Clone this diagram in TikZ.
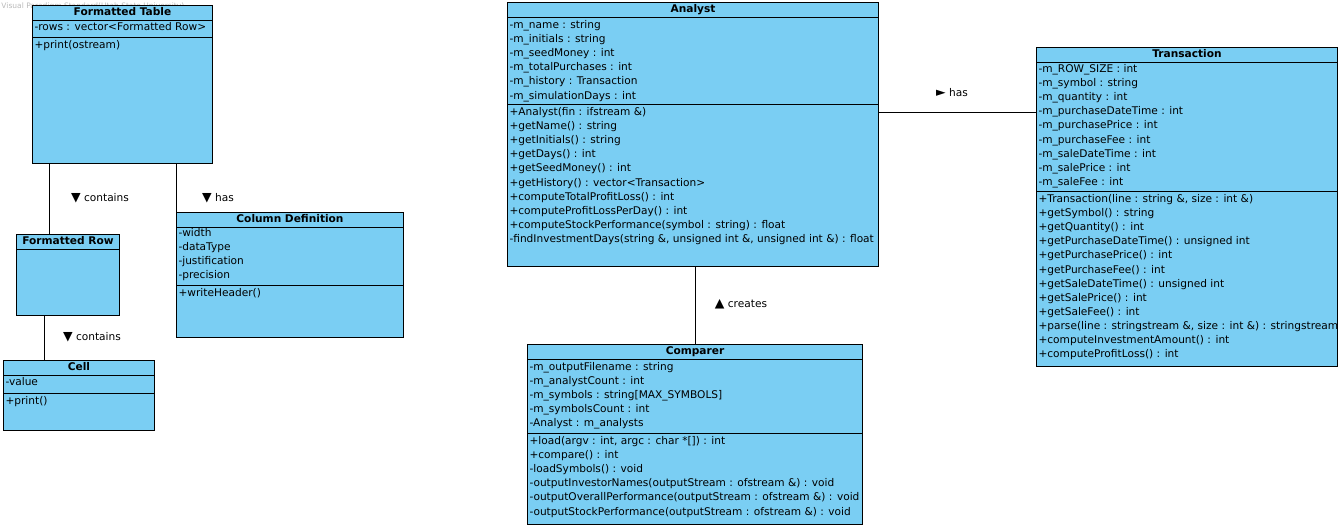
\documentclass[tikz,border=0pt]{standalone}
\usepackage{fontspec}
\setmainfont{DejaVu Sans}
\newfontfamily\symfont{DejaVu Sans}
\usetikzlibrary{positioning}
\definecolor{classblue}{RGB}{122,206,243}

\begin{document}
\begin{tikzpicture}[x=1pt,y=-1pt,line width=1pt]
    %
    % `classbox' is the body of a class, `classtitle' its name bar.
    % `members' holds attributes and operations, `assoc' the link names.
    \tikzstyle{classbox} = [draw,fill=classblue,anchor=north west,inner sep=0pt]
    \tikzstyle{classtitle} = [draw,fill=classblue,anchor=north,inner sep=0pt,minimum height=15,text height=7.5pt,text depth=2pt,font=\fontsize{10.6}{14}\selectfont\bfseries]
    \tikzstyle{members} = [anchor=north west,inner sep=0pt,align=left,font=\fontsize{10.6}{14.1}\selectfont]
    \tikzstyle{assoc} = [inner sep=0pt,font=\fontsize{10.6}{14}\selectfont]
    \useasboundingbox (0,0) rectangle (1341,528);
    %
    % Watermark
    \node[anchor=west,inner sep=0pt,text=gray!55,font=\fontsize{7.5}{9}\selectfont] (watermark) at (1,6) {Visual Paradigm Standard(Utah State University)};
    %
    % Formatted Table
    \node[classbox,minimum width=180,minimum height=158] (ftable) at (32,5) {};
    \node[classtitle,minimum width=180] (ftabletitle) at (ftable.north) {Formatted Table};
    \node[members] (ftableattr) at (34,22) {-rows : vector<Formatted Row>};
    \draw (ftable.west |- 0,37) -- (ftable.east |- 0,37);
    \node[members] (ftableops) at (34,40) {+print(ostream)};
    %
    % Formatted Row
    \node[classbox,minimum width=103,minimum height=81] (frow) at (16,234) {};
    \node[classtitle,minimum width=103] (frowtitle) at (frow.north) {Formatted Row};
    %
    % Cell
    \node[classbox,minimum width=151,minimum height=70] (cell) at (3,360) {};
    \node[classtitle,minimum width=151] (celltitle) at (cell.north) {Cell};
    \node[members] (cellattr) at (5,377) {-value};
    \draw (cell.west |- 0,393) -- (cell.east |- 0,393);
    \node[members] (cellops) at (5,396) {+print()};
    %
    % Column Definition
    \node[classbox,minimum width=227,minimum height=125] (coldef) at (176,212) {};
    \node[classtitle,minimum width=227] (coldeftitle) at (coldef.north) {Column Definition};
    \node[members] (coldefattr) at (178,228) {-width\\-dataType\\-justification\\-precision};
    \draw (coldef.west |- 0,285) -- (coldef.east |- 0,285);
    \node[members] (coldefops) at (178,288) {+writeHeader()};
    %
    % Analyst
    \node[classbox,minimum width=371,minimum height=264] (analyst) at (507,2) {};
    \node[classtitle,minimum width=371] (analysttitle) at (analyst.north) {Analyst};
    \node[members] (analystattr) at (509,20) {-m\_name : string\\-m\_initials : string\\-m\_seedMoney : int\\-m\_totalPurchases : int\\-m\_history : Transaction\\-m\_simulationDays : int};
    \draw (analyst.west |- 0,104) -- (analyst.east |- 0,104);
    \node[members] (analystops) at (509,107) {+Analyst(fin : ifstream \&)\\+getName() : string\\+getInitials() : string\\+getDays() : int\\+getSeedMoney() : int\\+getHistory() : vector<Transaction>\\+computeTotalProfitLoss() : int\\+computeProfitLossPerDay() : int\\+computeStockPerformance(symbol : string) : float\\-findInvestmentDays(string \&, unsigned int \&, unsigned int \&) : float};
    %
    % Comparer
    \node[classbox,minimum width=335,minimum height=180] (comparer) at (527,344) {};
    \node[classtitle,minimum width=335] (comparertitle) at (comparer.north) {Comparer};
    \node[members] (comparerattr) at (529,362) {-m\_outputFilename : string\\-m\_analystCount : int\\-m\_symbols : string[MAX\_SYMBOLS]\\-m\_symbolsCount : int\\-Analyst : m\_analysts};
    \draw (comparer.west |- 0,433) -- (comparer.east |- 0,433);
    \node[members] (comparerops) at (529,436) {+load(argv : int, argc : char *[]) : int\\+compare() : int\\-loadSymbols() : void\\-outputInvestorNames(outputStream : ofstream \&) : void\\-outputOverallPerformance(outputStream : ofstream \&) : void\\-outputStockPerformance(outputStream : ofstream \&) : void};
    %
    % Transaction
    \node[classbox,minimum width=301,minimum height=319] (transaction) at (1036,47) {};
    \node[classtitle,minimum width=301] (transactiontitle) at (transaction.north) {Transaction};
    \node[members] (transactionattr) at (1038,64) {-m\_ROW\_SIZE : int\\-m\_symbol : string\\-m\_quantity : int\\-m\_purchaseDateTime : int\\-m\_purchasePrice : int\\-m\_purchaseFee : int\\-m\_saleDateTime : int\\-m\_salePrice : int\\-m\_saleFee : int};
    \draw (transaction.west |- 0,191) -- (transaction.east |- 0,191);
    \node[members] (transactionops) at (1038,194) {+Transaction(line : string \&, size : int \&)\\+getSymbol() : string\\+getQuantity() : int\\+getPurchaseDateTime() : unsigned int\\+getPurchasePrice() : int\\+getPurchaseFee() : int\\+getSaleDateTime() : unsigned int\\+getSalePrice() : int\\+getSaleFee() : int\\+parse(line : stringstream \&, size : int \&) : stringstream\\+computeInvestmentAmount() : int\\+computeProfitLoss() : int};
    %
    % Associations
    \draw (frow.north west) ++(33,0) coordinate (ftrow) -- (ftrow |- ftable.south);
    \draw (coldef.north west) -- (coldef.north west |- ftable.south);
    \draw (cell.north west) ++(41,0) coordinate (rowcell) -- (rowcell |- frow.south);
    \draw (analyst.north east) ++(0,110) coordinate (analysttx) -- (analysttx -| transaction.west);
    \draw (comparer.north) -- (comparer.north |- analyst.south);
    %
    % Association names
    \node[assoc] (containsrow) at (100,198) {{\symfont\fontsize{12.5}{14}\selectfont ▼} contains};
    \node[assoc] (hascol) at (218,198) {{\symfont\fontsize{12.5}{14}\selectfont ▼} has};
    \node[assoc] (containscell) at (92,337) {{\symfont\fontsize{12.5}{14}\selectfont ▼} contains};
    \node[assoc] (hastx) at (952,93) {{\symfont\fontsize{12.5}{14}\selectfont ►} has};
    \node[assoc] (creates) at (741,304) {{\symfont\fontsize{12.5}{14}\selectfont ▲} creates};
    %
\end{tikzpicture}
\end{document}
